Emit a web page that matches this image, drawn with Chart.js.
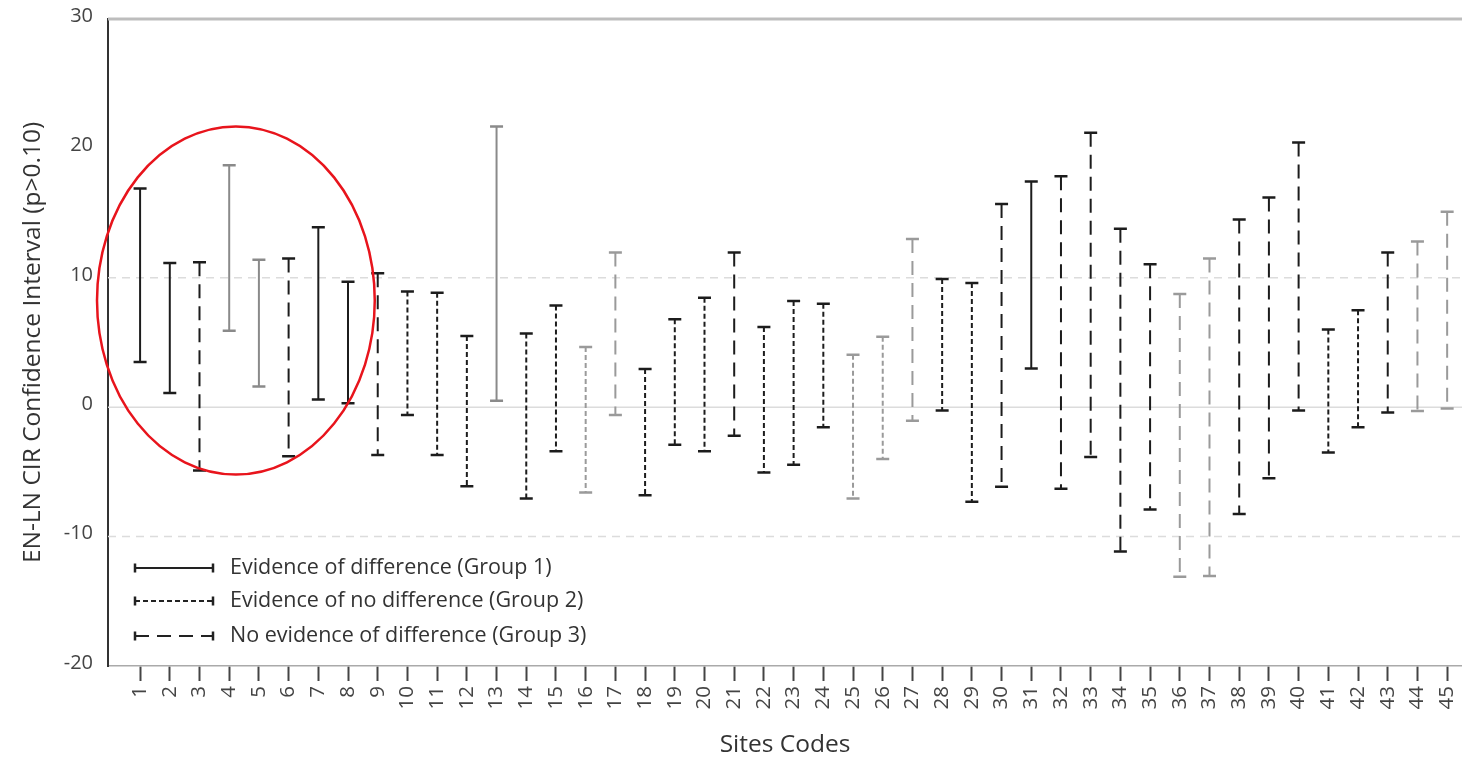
<!DOCTYPE html>
<html>
<head>
<meta charset="utf-8">
<script src="https://cdn.jsdelivr.net/npm/chart.js@4.4.1/dist/chart.umd.min.js"></script>
<style>
  html, body { margin: 0; padding: 0; background: #fff; }
  #wrap { width: 1462px; height: 760px; }
</style>
</head>
<body>
<div id="wrap"><canvas id="ci_chart"></canvas></div>
<script>
// site codes on the x axis
var sites = [1, 2, 3, 4, 5, 6, 7, 8, 9, 10, 11, 12, 13, 14, 15, 16, 17, 18, 19, 20, 21, 22,
  23, 24, 25, 26, 27, 28, 29, 30, 31, 32, 33, 34, 35, 36, 37, 38, 39, 40, 41, 42, 43, 44, 45];

// lower / upper ends of each confidence interval
var ci_low = [3.5, 1.1, -4.9, 5.9, 1.6, -3.8, 0.6, 0.3, -3.7, -0.6,
  -3.7, -6.1, 0.5, -7.05, -3.4, -6.6, -0.6, -6.8, -2.9, -3.4,
  -2.2, -5.05, -4.45, -1.55, -7.05, -4.0, -1.05, -0.25, -7.3, -6.15,
  3.0, -6.3, -3.85, -11.15, -7.9, -13.1, -13.05, -8.25, -5.5, -0.25,
  -3.5, -1.55, -0.4, -0.3, -0.1];
var ci_high = [16.9, 11.15, 11.2, 18.7, 11.4, 11.5, 13.9, 9.7, 10.35, 8.95,
  8.85, 5.5, 21.7, 5.7, 7.85, 4.65, 11.95, 2.95, 6.8, 8.45,
  11.95, 6.2, 8.2, 8.0, 4.05, 5.45, 13.0, 9.9, 9.6, 15.7,
  17.45, 17.85, 21.2, 13.8, 11.05, 8.75, 11.5, 14.5, 16.2, 20.45,
  6.0, 7.5, 11.95, 12.8, 15.1];

// 1 = evidence of difference, 2 = evidence of no difference, 3 = no evidence of difference
var group = [1, 1, 3, 1, 1, 3, 1, 1, 3, 2,
  2, 2, 1, 2, 2, 2, 3, 2, 2, 2,
  3, 2, 2, 2, 2, 2, 3, 2, 2, 3,
  1, 3, 3, 3, 3, 3, 3, 3, 3, 3,
  2, 2, 3, 3, 3];
// some intervals are printed in grey in the original
var grey = [0, 0, 0, 1, 1, 0, 0, 0, 0, 0,
  0, 0, 1, 0, 0, 1, 1, 0, 0, 0,
  0, 0, 0, 0, 1, 1, 1, 0, 0, 0,
  0, 0, 0, 0, 0, 1, 1, 0, 0, 0,
  0, 0, 0, 1, 1];

var y_min = -20, y_max = 30, y_step = 10;
var legend_labels = [
  'Evidence of difference (Group 1)',
  'Evidence of no difference (Group 2)',
  'No evidence of difference (Group 3)'
];
// red ring round sites 1-8 (data coordinates)
var ring = { xMin: -0.45, xMax: 8.9, yMin: -5.2, yMax: 21.7 };

var FONT = '"Open Sans", Lato, sans-serif';
var dashes = { 1: [], 2: [5, 3], 3: [14, 8] };

function strokeInterval(ctx, x1, y1, x2, y2, grp, colour, capHalf, vertical) {
  ctx.save();
  ctx.strokeStyle = colour;
  ctx.lineWidth = 2;
  ctx.setLineDash(dashes[grp]);
  ctx.beginPath();
  ctx.moveTo(x1, y1);
  ctx.lineTo(x2, y2);
  ctx.stroke();
  ctx.setLineDash([]);
  ctx.lineWidth = 2.5;
  ctx.beginPath();
  if (vertical) {
    ctx.moveTo(x1 - capHalf, y1); ctx.lineTo(x1 + capHalf, y1);
    ctx.moveTo(x2 - capHalf, y2); ctx.lineTo(x2 + capHalf, y2);
  } else {
    ctx.moveTo(x1, y1 - capHalf); ctx.lineTo(x1, y1 + capHalf);
    ctx.moveTo(x2, y2 - capHalf); ctx.lineTo(x2, y2 + capHalf);
  }
  ctx.stroke();
  ctx.restore();
}

var errorBarPlugin = {
  id: 'errorBars',
  beforeDatasetsDraw: function(chart) {
    var ctx = chart.ctx, area = chart.chartArea, ys = chart.scales.y;
    ctx.save();
    // reference lines
    ctx.lineWidth = 1.5;
    ctx.strokeStyle = '#dcdcdc';
    ctx.beginPath();
    ctx.moveTo(area.left, ys.getPixelForValue(0));
    ctx.lineTo(area.right, ys.getPixelForValue(0));
    ctx.stroke();
    ctx.setLineDash([8, 6]);
    [10, -10].forEach(function(v) {
      ctx.beginPath();
      ctx.moveTo(area.left, ys.getPixelForValue(v));
      ctx.lineTo(area.right, ys.getPixelForValue(v));
      ctx.stroke();
    });
    ctx.setLineDash([]);
    ctx.lineWidth = 3;
    ctx.strokeStyle = '#bdbdbd';
    ctx.beginPath();
    ctx.moveTo(area.left, ys.getPixelForValue(y_max));
    ctx.lineTo(area.right, ys.getPixelForValue(y_max));
    ctx.stroke();
    ctx.restore();
  },
  afterDatasetsDraw: function(chart) {
    var ctx = chart.ctx, area = chart.chartArea;
    var xs = chart.scales.x, ys = chart.scales.y;
    var meta = chart.getDatasetMeta(0);
    meta.data.forEach(function(bar, i) {
      var top = Math.min(bar.y, bar.base);
      var bot = Math.max(bar.y, bar.base);
      var colour = grey[i] ? (group[i] === 1 ? '#8a8a8a' : '#9a9a9a') : '#1c1c1c';
      strokeInterval(ctx, bar.x, top, bar.x, bot, group[i], colour, 6.5, true);
    });

    // legend, bottom-left inside the plot
    ctx.save();
    ctx.font = '21.5px ' + FONT;
    ctx.fillStyle = '#333';
    ctx.textBaseline = 'middle';
    var rows = [area.bottom - 98, area.bottom - 65, area.bottom - 30];
    legend_labels.forEach(function(txt, k) {
      strokeInterval(ctx, area.left + 27, rows[k], area.left + 105, rows[k], k + 1, '#222', 4.5, false);
      ctx.fillText(txt, area.left + 122, rows[k]);
    });
    ctx.restore();

    // red ring
    var x1 = xs.getPixelForValue(ring.xMin), x2 = xs.getPixelForValue(ring.xMax);
    var y1 = ys.getPixelForValue(ring.yMax), y2 = ys.getPixelForValue(ring.yMin);
    ctx.save();
    ctx.strokeStyle = '#e8141c';
    ctx.lineWidth = 2.5;
    ctx.beginPath();
    ctx.ellipse((x1 + x2) / 2, (y1 + y2) / 2, (x2 - x1) / 2, (y2 - y1) / 2, 0, 0, Math.PI * 2);
    ctx.stroke();
    ctx.restore();
  }
};

var ctx = document.getElementById('ci_chart');

var ciChart = new Chart(ctx, {
  type: 'bar',
  data: {
    datasets: [{
      label: 'EN-LN CIR',
      data: sites.map(function(s, i) { return { x: s, y: [ci_low[i], ci_high[i]] }; }),
      backgroundColor: 'rgba(0,0,0,0)',
      borderWidth: 0,
      barThickness: 13
    }]
  },
  options: {
    responsive: true,
    maintainAspectRatio: false,
    animation: false,
    layout: { padding: { top: 19, right: 0, left: 0, bottom: 0 } },
    plugins: {
      legend: { display: false },
      tooltip: { enabled: false }
    },
    scales: {
      x: {
        type: 'linear',
        min: -0.08,
        max: 45.5,
        offset: false,
        afterBuildTicks: function(axis) {
          axis.ticks = sites.map(function(v) { return { value: v }; });
        },
        afterFit: function(s) {
          s.height = 94;
          s.paddingLeft = 0;
          s.paddingRight = 0;
        },
        ticks: {
          autoSkip: false,
          minRotation: 90,
          maxRotation: 90,
          padding: 5,
          color: '#444',
          font: { family: FONT, size: 20.5 },
          callback: function(v) { return String(v); }
        },
        grid: {
          offset: false,
          drawOnChartArea: false,
          drawTicks: true,
          tickLength: 15,
          tickColor: '#444',
          tickWidth: 2
        },
        border: { display: true, color: '#aaa', width: 1.5 },
        title: {
          display: true,
          text: 'Sites Codes',
          color: '#333',
          font: { family: FONT, size: 24.5 },
          padding: { top: 0, bottom: 0 }
        }
      },
      y: {
        min: y_min,
        max: y_max,
        afterFit: function(s) {
          s.width = 108;
          s.paddingTop = 0;
          s.paddingBottom = 0;
        },
        ticks: {
          stepSize: y_step,
          padding: 15,
          labelOffset: -3,
          color: '#444',
          font: { family: FONT, size: 20 }
        },
        grid: { display: false, drawTicks: false },
        border: { display: true, color: '#333', width: 2 },
        title: {
          display: true,
          text: 'EN-LN CIR Confidence Interval (p>0.10)',
          color: '#333',
          font: { family: FONT, size: 24.5 },
          padding: { top: 18, bottom: 0 }
        }
      }
    }
  },
  plugins: [errorBarPlugin]
});
</script>
</body>
</html>
